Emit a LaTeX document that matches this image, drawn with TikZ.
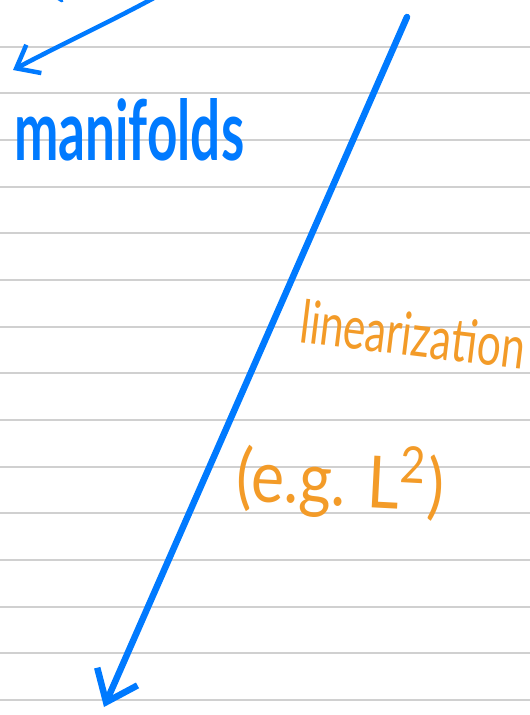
\documentclass[tikz,border=0pt]{standalone}
\usepackage{fontspec}
\setmainfont{Lato}
\usetikzlibrary{arrows.meta}
\definecolor{inkblue}{RGB}{0,122,255}
\definecolor{inkorange}{RGB}{243,155,40}
\definecolor{ruling}{RGB}{208,208,208}
\begin{document}
\begin{tikzpicture}[x=1pt,y=-1pt,
  ruleline/.style={draw=ruling, line width=1.8pt},
  bluestroke/.style={draw=inkblue, line cap=round, line join=round},
  orangetext/.style={text=inkorange, inner sep=0pt},
  bluetext/.style={text=inkblue, inner sep=0pt}]
\useasboundingbox[fill=white] (0,0) rectangle (530,715);
\clip (0,0) rectangle (530,715);
\foreach \k in {1,...,15} \draw[ruleline] (0,46.67*\k) -- (530,46.67*\k);
% curved arrow top-left
\coordinate (ctop) at (165,-8);
\coordinate (ctip) at (13,70);
\draw[bluestroke, line width=4.5pt, -{Straight Barb[length=20pt,width=32pt]}] (ctop) .. controls (110,22) and (60,45) .. (ctip);
\draw[bluestroke, line width=3pt] (54,-4) -- (62,1);
% main arrow
\coordinate (atop) at (407,17);
\coordinate (atip) at (104,707);
\draw[bluestroke, line width=6.5pt, -{Straight Barb[length=28pt,width=44pt]}] (atop) -- (atip);
% texts
\node[bluetext, anchor=base west] (m) at (14,160) {\resizebox{230pt}{62pt}{\bfseries manifolds}};
\node[orangetext, anchor=base west, rotate=-7] (lin) at (298,342) {\resizebox{226pt}{44pt}{linearization}};
\node[orangetext, rotate=-3] (eg) at (341,481) {\resizebox*{208pt}{76pt}{(e.g. L\textsuperscript{2})}};
\end{tikzpicture}
\end{document}
